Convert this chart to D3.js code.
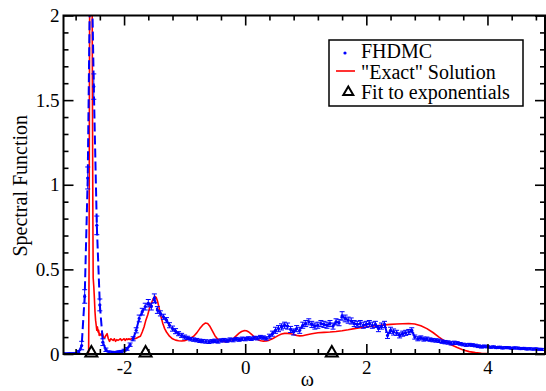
<!DOCTYPE html>
<html><head><meta charset="utf-8">
<script src="https://cdn.jsdelivr.net/npm/d3@7"></script>
</head>
<body style="margin:0"><svg id="chart" width="546" height="391"></svg>
<script>
// ---------- data ----------
const fhdmcOmega = [
 -3.00,-2.95,-2.90,-2.85,-2.80,-2.75,-2.70,-2.65,-2.60,-2.55,
 -2.50,-2.45,-2.40,-2.35,-2.30,-2.25,-2.20,-2.15,-2.10,-2.05,
 -2.00,-1.95,-1.90,-1.85,-1.80,-1.75,-1.70,-1.65,-1.60,-1.55,
 -1.50,-1.45,-1.40,-1.35,-1.30,-1.25,-1.20,-1.15,-1.10,-1.05,
 -1.00,-0.95,-0.90,-0.85,-0.80,-0.75,-0.70,-0.65,-0.60,-0.55,
 -0.50,-0.45,-0.40,-0.35,-0.30,-0.25,-0.20,-0.15,-0.10,-0.05,
 0.00,0.05,0.10,0.15,0.20,0.25,0.30,0.35,0.40,0.45,
 0.50,0.55,0.60,0.65,0.70,0.75,0.80,0.85,0.90,0.95,
 1.00,1.05,1.10,1.15,1.20,1.25,1.30,1.35,1.40,1.45,
 1.50,1.55,1.60,1.65,1.70,1.75,1.80,1.85,1.90,1.95,
 2.00,2.05,2.10,2.15,2.20,2.25,2.30,2.35,2.40,2.45,
 2.50,2.55,2.60,2.65,2.70,2.75,2.80,2.85,2.90,2.95,
 3.00,3.05,3.10,3.15,3.20,3.25,3.30,3.35,3.40,3.45,
 3.50,3.55,3.60,3.65,3.70,3.75,3.80,3.85,3.90,3.95,
 4.00,4.05,4.10,4.15,4.20,4.25,4.30,4.35,4.40,4.45,
 4.50,4.55,4.60,4.65,4.70,4.75,4.80,4.85,4.90];
const fhdmcValue = [
 0.002,0.001,0.003,0.002,0.004,0.012,0.05,0.34,1.04,2.6,
 1.58,0.76,0.29,0.07,0.025,0.012,0.01,0.008,0.012,0.015,
 0.022,0.03,0.055,0.09,0.14,0.21,0.25,0.28,0.30,0.28,
 0.33,0.26,0.24,0.22,0.20,0.17,0.15,0.135,0.12,0.11,
 0.10,0.095,0.088,0.085,0.082,0.078,0.076,0.074,0.072,0.075,
 0.078,0.074,0.08,0.082,0.079,0.085,0.082,0.088,0.085,0.09,
 0.088,0.092,0.09,0.095,0.093,0.10,0.097,0.092,0.105,0.12,
 0.14,0.15,0.16,0.17,0.165,0.145,0.13,0.15,0.14,0.17,
 0.18,0.19,0.175,0.165,0.17,0.18,0.175,0.17,0.18,0.165,
 0.19,0.185,0.225,0.21,0.20,0.195,0.18,0.175,0.18,0.17,
 0.175,0.18,0.17,0.175,0.15,0.165,0.175,0.11,0.14,0.13,
 0.125,0.11,0.12,0.125,0.13,0.14,0.10,0.09,0.095,0.088,
 0.09,0.085,0.082,0.08,0.078,0.073,0.07,0.068,0.063,0.066,
 0.065,0.06,0.056,0.053,0.055,0.053,0.05,0.046,0.043,0.045,
 0.043,0.04,0.042,0.038,0.04,0.036,0.038,0.037,0.034,0.036,
 0.035,0.032,0.033,0.03,0.031,0.029,0.03,0.028,0.027];
const fhdmcError = [
 0.004,0.004,0.004,0.004,0.005,0.008,0.025,0.04,0.065,0.1,
 0.075,0.055,0.035,0.02,0.01,0.006,0.006,0.006,0.006,0.006,
 0.006,0.008,0.01,0.012,0.015,0.02,0.02,0.02,0.022,0.02,
 0.025,0.02,0.015,0.015,0.015,0.015,0.015,0.015,0.012,0.012,
 0.012,0.01,0.01,0.01,0.01,0.01,0.01,0.01,0.01,0.01,
 0.01,0.01,0.01,0.01,0.01,0.01,0.01,0.01,0.01,0.01,
 0.01,0.01,0.01,0.01,0.01,0.01,0.01,0.01,0.012,0.015,
 0.018,0.018,0.018,0.018,0.018,0.018,0.018,0.018,0.018,0.018,
 0.018,0.018,0.018,0.018,0.018,0.018,0.018,0.018,0.018,0.018,
 0.018,0.018,0.025,0.02,0.018,0.018,0.018,0.018,0.018,0.018,
 0.018,0.018,0.018,0.018,0.018,0.018,0.018,0.018,0.018,0.018,
 0.015,0.015,0.015,0.015,0.015,0.015,0.012,0.012,0.012,0.012,
 0.01,0.01,0.01,0.01,0.01,0.01,0.01,0.01,0.01,0.01,
 0.008,0.008,0.008,0.008,0.008,0.008,0.008,0.008,0.008,0.008,
 0.006,0.006,0.006,0.006,0.006,0.006,0.006,0.006,0.006,0.006,
 0.006,0.006,0.006,0.006,0.006,0.006,0.006,0.006,0.006];

const exactOmega = [
 -3.0,-2.6,-2.585,-2.578,-2.572,-2.565,-2.53,-2.522,-2.515,-2.51,
 -2.50,-2.49,-2.48,-2.47,-2.46,-2.45,-2.44,-2.43,-2.42,-2.41,
 -2.40,-2.38,-2.36,-2.34,-2.32,-2.30,-2.28,-2.26,-2.24,-2.22,
 -2.20,-2.18,-2.16,-2.14,-2.12,-2.10,-2.08,-2.06,-2.04,-2.02,
 -2.00,-1.98,-1.96,-1.94,-1.92,-1.90,-1.88,-1.85,-1.82,-1.79,
 -1.76,-1.73,-1.70,-1.67,-1.64,-1.61,-1.58,-1.55,-1.52,-1.49,
 -1.47,-1.45,-1.42,-1.39,-1.36,-1.33,-1.30,-1.25,-1.20,-1.15,
 -1.10,-1.05,-1.00,-0.95,-0.90,-0.85,-0.80,-0.75,-0.70,-0.66,
 -0.62,-0.58,-0.54,-0.50,-0.46,-0.42,-0.38,-0.34,-0.30,-0.26,
 -0.22,-0.18,-0.14,-0.10,-0.06,-0.02,0.02,0.06,0.10,0.14,
 0.18,0.22,0.26,0.30,0.35,0.40,0.45,0.50,0.55,0.60,
 0.65,0.70,0.75,0.80,0.85,0.90,0.95,1.00,1.10,1.20,
 1.30,1.40,1.50,1.60,1.70,1.80,1.90,2.00,2.10,2.20,
 2.30,2.40,2.50,2.60,2.70,2.80,2.90,3.00,3.10,3.20,
 3.30,3.40,3.50,3.60,3.70,3.80,3.90,4.00,4.20,4.95];
const exactValue = [
 0,0,0.01,0.5,1.5,2.5,2.5,1.5,0.8,0.45,
 0.40,0.33,0.25,0.20,0.17,0.14,0.16,0.13,0.14,0.11,
 0.12,0.11,0.125,0.10,0.095,0.11,0.12,0.09,0.075,0.09,
 0.085,0.08,0.09,0.075,0.085,0.08,0.085,0.09,0.08,0.085,
 0.09,0.08,0.09,0.085,0.09,0.085,0.09,0.095,0.09,0.095,
 0.10,0.105,0.13,0.16,0.20,0.23,0.27,0.30,0.325,0.34,
 0.335,0.315,0.27,0.22,0.18,0.15,0.13,0.105,0.09,0.082,
 0.078,0.077,0.079,0.085,0.093,0.105,0.125,0.15,0.172,0.183,
 0.18,0.162,0.135,0.108,0.09,0.08,0.075,0.073,0.074,0.078,
 0.085,0.097,0.11,0.123,0.133,0.138,0.137,0.13,0.118,0.104,
 0.092,0.083,0.078,0.076,0.077,0.082,0.09,0.10,0.11,0.118,
 0.122,0.122,0.12,0.115,0.11,0.107,0.108,0.112,0.12,0.126,
 0.128,0.13,0.133,0.137,0.143,0.15,0.155,0.16,0.164,0.168,
 0.172,0.175,0.177,0.179,0.18,0.177,0.167,0.15,0.127,0.10,
 0.075,0.055,0.038,0.024,0.014,0.008,0.004,0.002,0,0];

const fitOmega = [-2.54, -1.645, 1.43];
const fitValue = [0, 0, 0];

const xMajorTicks = [-2, 0, 2, 4];
const xMinorTicks = [-2.8,-2.4,-1.6,-1.2,-0.8,-0.4,0.4,0.8,1.2,1.6,2.4,2.8,3.2,3.6,4.4,4.8];
const yMajorTicks = [0, 0.5, 1, 1.5, 2];
const yMajorLabels = ["0", "0.5", "1", "1.5", "2"];
const yMinorTicks = [0.1,0.2,0.3,0.4,0.6,0.7,0.8,0.9,1.1,1.2,1.3,1.4,1.6,1.7,1.8,1.9];
const legendLabels = ["FHDMC", "\"Exact\" Solution", "Fit to exponentials"];
const xTitle = "ω";
const yTitle = "Spectral Function";

// ---------- layout ----------
const FONT = "Liberation Serif";
const L = 63.5, R = 545, T = 15.5, B = 354;
const x = d3.scaleLinear().domain([-3, 4.95]).range([L, R]);
const y = d3.scaleLinear().domain([0, 2]).range([B, T]);
const FS = 19;
const svg = d3.select("#chart");

function setFont(sel, size) {
  sel.attr("font-family", FONT).style("font-family", "'Liberation Serif'").attr("font-size", size);
  return sel;
}

svg.append("defs").append("clipPath").attr("id", "clip")
  .append("rect").attr("x", L).attr("y", T).attr("width", R - L).attr("height", B - T);

const plot = svg.append("g").attr("clip-path", "url(#clip)");

// exact solution (red)
const exact = exactOmega.map((w, i) => [w, exactValue[i]]);
plot.append("path").datum(exact)
  .attr("fill", "none").attr("stroke", "#ff0000").attr("stroke-width", 1.6)
  .attr("stroke-linejoin", "round")
  .attr("d", d3.line().x(d => x(d[0])).y(d => y(d[1])));

// FHDMC (blue dashed line + points + error bars)
const fh = fhdmcOmega.map((w, i) => ({w, v: fhdmcValue[i], e: fhdmcError[i]}));
plot.append("path").datum(fh)
  .attr("fill", "none").attr("stroke", "#0000ff").attr("stroke-width", 2)
  .attr("stroke-dasharray", "9,4")
  .attr("d", d3.line().x(d => x(d.w)).y(d => y(d.v)));

const eb = plot.append("g").attr("stroke", "#0000ff").attr("stroke-width", 1);
fh.forEach(d => {
  const cx = x(d.w), y1 = y(d.v + d.e), y0 = y(d.v - d.e);
  eb.append("line").attr("x1", cx).attr("x2", cx).attr("y1", y1).attr("y2", y0);
  eb.append("line").attr("x1", cx - 2.5).attr("x2", cx + 2.5).attr("y1", y1).attr("y2", y1);
  eb.append("line").attr("x1", cx - 2.5).attr("x2", cx + 2.5).attr("y1", y0).attr("y2", y0);
});
plot.append("g").selectAll("circle").data(fh).join("circle")
  .attr("cx", d => x(d.w)).attr("cy", d => y(d.v)).attr("r", 1.6)
  .attr("fill", "#0000ff");

// fit triangles
function tri(cx, cy) {
  return `M${cx},${cy - 8}L${cx + 6},${cy + 2.5}L${cx - 6},${cy + 2.5}Z`;
}
svg.append("g").selectAll("path").data(fitOmega).join("path")
  .attr("d", (w, i) => tri(x(w), y(fitValue[i])))
  .attr("fill", "none").attr("stroke", "#000").attr("stroke-width", 2)
  .attr("stroke-linejoin", "miter");

// ---------- axes ----------
function styleAxis(g) {
  g.select(".domain").remove();
  g.attr("font-family", FONT).attr("font-size", FS);
  g.selectAll(".tick line").attr("stroke", "#000").attr("stroke-width", 1.6);
  setFont(g.selectAll("text"), FS).attr("fill", "#000");
}
// bottom
svg.append("g").attr("transform", `translate(0,${B})`)
  .call(d3.axisBottom(x).tickValues(xMajorTicks).tickSizeInner(-10).tickSizeOuter(0).tickPadding(7)
    .tickFormat(d => d < 0 ? "-" + Math.abs(d) : String(d)))
  .call(styleAxis);
svg.append("g").attr("transform", `translate(0,${B})`)
  .call(d3.axisBottom(x).tickValues(xMinorTicks).tickSizeInner(-5).tickSizeOuter(0).tickFormat(""))
  .call(styleAxis);
// top
svg.append("g").attr("transform", `translate(0,${T})`)
  .call(d3.axisTop(x).tickValues(xMajorTicks).tickSizeInner(-10).tickSizeOuter(0).tickFormat(""))
  .call(styleAxis);
svg.append("g").attr("transform", `translate(0,${T})`)
  .call(d3.axisTop(x).tickValues(xMinorTicks).tickSizeInner(-5).tickSizeOuter(0).tickFormat(""))
  .call(styleAxis);
// left
svg.append("g").attr("transform", `translate(${L},0)`)
  .call(d3.axisLeft(y).tickValues(yMajorTicks).tickSizeInner(-10).tickSizeOuter(0).tickPadding(4)
    .tickFormat((d, i) => yMajorLabels[i]))
  .call(styleAxis);
svg.append("g").attr("transform", `translate(${L},0)`)
  .call(d3.axisLeft(y).tickValues(yMinorTicks).tickSizeInner(-5).tickSizeOuter(0).tickFormat(""))
  .call(styleAxis);
// right
svg.append("g").attr("transform", `translate(${R},0)`)
  .call(d3.axisRight(y).tickValues(yMajorTicks).tickSizeInner(-10).tickSizeOuter(0).tickFormat(""))
  .call(styleAxis);
svg.append("g").attr("transform", `translate(${R},0)`)
  .call(d3.axisRight(y).tickValues(yMinorTicks).tickSizeInner(-5).tickSizeOuter(0).tickFormat(""))
  .call(styleAxis);

// frame
svg.append("rect").attr("x", L).attr("y", T).attr("width", R - L).attr("height", B - T)
  .attr("fill", "none").attr("stroke", "#000").attr("stroke-width", 2);

// titles
setFont(svg.append("text"), 20).attr("x", (L + R) / 2 + 3).attr("y", 386)
  .attr("text-anchor", "middle").text(xTitle);
setFont(svg.append("text"), 20).attr("transform", `translate(27,${(T + B) / 2 + 1}) rotate(-90)`)
  .attr("text-anchor", "middle").text(yTitle);

// ---------- legend ----------
const lg = svg.append("g");
lg.append("rect").attr("x", 329).attr("y", 40).attr("width", 194).attr("height", 66)
  .attr("fill", "#fff").attr("stroke", "#000").attr("stroke-width", 1.5);
const rowY = [53, 71, 91];
lg.append("circle").attr("cx", 345).attr("cy", rowY[0]).attr("r", 1.6).attr("fill", "#0000ff");
lg.append("line").attr("x1", 336).attr("x2", 355).attr("y1", rowY[1]).attr("y2", rowY[1])
  .attr("stroke", "#ff0000").attr("stroke-width", 1.6);
lg.append("path").attr("d", `M348.3,86.5L353.3,95L343.3,95Z`)
  .attr("fill", "none").attr("stroke", "#000").attr("stroke-width", 2);
legendLabels.forEach((t, i) => {
  setFont(lg.append("text"), 20).attr("x", 361).attr("y", [57.5, 78.5, 99][i]).text(t);
});
</script></body></html>
